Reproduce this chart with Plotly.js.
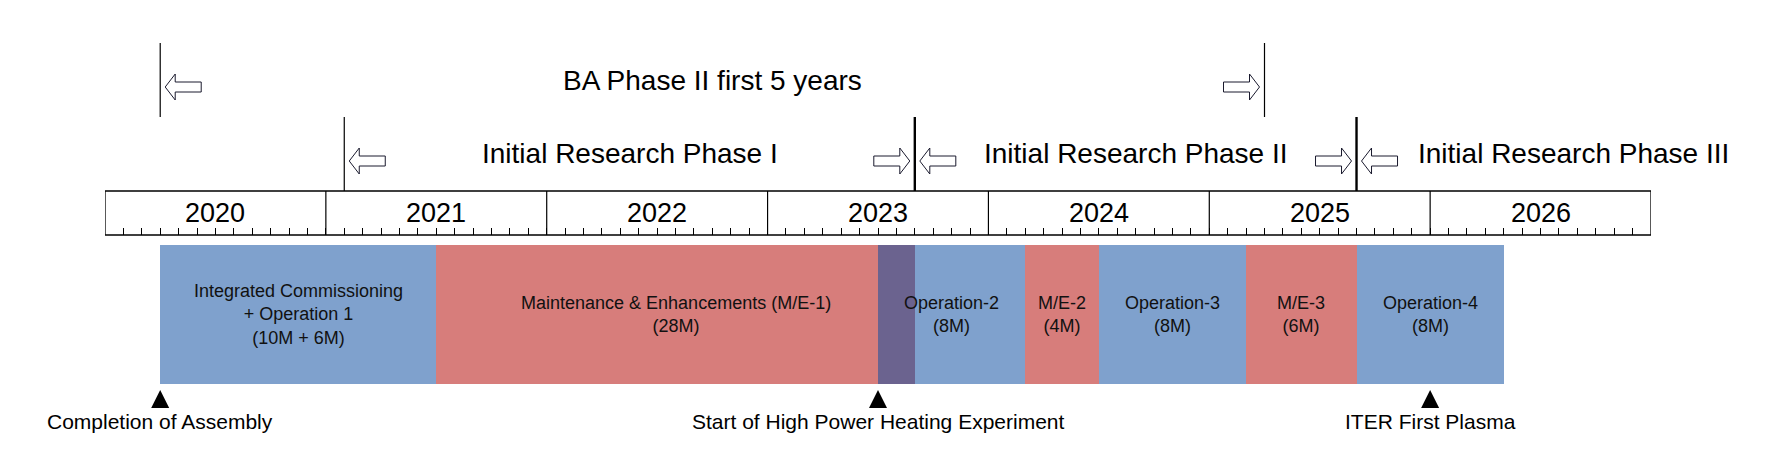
<!DOCTYPE html>
<html><head><meta charset="utf-8">
<script src="https://cdn.plot.ly/plotly-3.0.1.min.js"></script>
<style>html,body{margin:0;padding:0;background:#fff;}#chart{width:1788px;height:468px;}</style>
</head><body><div id="chart"></div>
<script>
// Time in months counted from January 2020 (= 0)
const years = ['2020','2021','2022','2023','2024','2025','2026'];
const segStart  = [3, 18, 42, 44, 50, 54, 62, 68];
const segMonths = [15, 24, 2, 6, 4, 8, 6, 8];
const segKind   = ['op','me','heat','op','me','op','me','op'];
const segLabels = ['Integrated Commissioning<br>+ Operation 1<br>(10M + 6M)',
                   'Maintenance &amp; Enhancements (M/E-1)<br>(28M)',
                   'Operation-2<br>(8M)', 'M/E-2<br>(4M)', 'Operation-3<br>(8M)',
                   'M/E-3<br>(6M)', 'Operation-4<br>(8M)'];
const segLabelX = [10.5, 31, 46, 52, 58, 65, 72];
const milestones  = ['Completion of Assembly','Start of High Power Heating Experiment','ITER First Plasma'];
const milestoneX  = [3, 42, 72];
const baPeriod = [3, 63];
const baLabel  = 'BA Phase II first 5 years';
const phaseBounds = [13, 44, 68];
const phaseLabels = ['Initial Research Phase I','Initial Research Phase II','Initial Research Phase III'];
const phaseLabelX = [28.5, 56, 79.8];

const colors = {op:'#7fa1cd', me:'#d77d7b', heat:'#6b638f'};
const FONT = '"Liberation Sans", Arial, sans-serif';
const H = 468, W = 1788;
const nMonths = years.length * 12;

// layout rows (pixel positions, y axis runs in pixels top->bottom)
const ROW = {baTop:43, baBot:117, phTop:117, boxTop:191, boxBot:235, barTop:245, barBot:383.7,
             baText:80, baArrow:87, phText:153, phArrow:161, yearText:213, tri:390, msText:421};

const shapes = [];
const ann = [];
const blk = '#000';

// BA period bracket lines
baPeriod.forEach(x => shapes.push({type:'line', xref:'x', yref:'y', x0:x, x1:x, y0:ROW.baTop, y1:ROW.baBot, line:{color:blk, width:1.2}}));
// phase boundary lines
phaseBounds.forEach((x,i) => shapes.push({type:'line', xref:'x', yref:'y', x0:x, x1:x, y0:ROW.phTop, y1:ROW.boxTop, line:{color:blk, width: i===0 ? 1.2 : 2.4}}));

// year box
shapes.push({type:'rect', xref:'x', yref:'y', x0:0, x1:nMonths, y0:ROW.boxTop, y1:ROW.boxBot, line:{color:blk, width:1.3}, fillcolor:'rgba(0,0,0,0)'});
years.forEach((y,i) => {
  if (i>0) shapes.push({type:'line', xref:'x', yref:'y', x0:i*12, x1:i*12, y0:ROW.boxTop, y1:ROW.boxBot, line:{color:blk, width:1.2}});
  ann.push({x:i*12+6, y:ROW.yearText, xref:'x', yref:'y', text:y, showarrow:false, font:{family:FONT, size:27, color:'#000'}});
});

// block arrows (pixel-sized, anchored to boundaries)
const leftArrow  = 'M5,0 L15,13 L15,5 L41,5 L41,-5 L15,-5 L15,-13 Z';
const rightArrow = 'M-5,0 L-15,13 L-15,5 L-41,5 L-41,-5 L-15,-5 L-15,-13 Z';
function arrow(x, y, path){
  shapes.push({type:'path', xref:'x', yref:'y', xsizemode:'pixel', ysizemode:'pixel', xanchor:x, yanchor:y,
               path:path, fillcolor:'#fff', line:{color:'#1a1a2e', width:1}});
}
arrow(baPeriod[0], ROW.baArrow, leftArrow);
arrow(baPeriod[1], ROW.baArrow, rightArrow);
phaseBounds.forEach((x,i) => {
  if (i>0) arrow(x, ROW.phArrow, rightArrow);
  arrow(x, ROW.phArrow, leftArrow);
});

// header texts
ann.push({x:(baPeriod[0]+baPeriod[1])/2, y:ROW.baText, xref:'x', yref:'y', text:baLabel, showarrow:false, font:{family:FONT, size:28, color:'#000'}});
phaseLabels.forEach((t,i) => ann.push({x:phaseLabelX[i], y:ROW.phText, xref:'x', yref:'y', text:t, showarrow:false, font:{family:FONT, size:28, color:'#000'}}));

// bar labels
segLabels.forEach((t,i) => ann.push({x:segLabelX[i], y:(ROW.barTop+ROW.barBot)/2, xref:'x', yref:'y', text:t, showarrow:false, font:{family:FONT, size:18, color:'#111'}}));

// milestone labels
milestones.forEach((t,i) => ann.push({x:milestoneX[i], y:ROW.msText, xref:'x', yref:'y', text:t, showarrow:false, font:{family:FONT, size:21, color:'#000'}}));

const barTrace = {
  type:'bar', orientation:'h',
  base: segStart, x: segMonths,
  y: segStart.map(() => (ROW.barTop+ROW.barBot)/2),
  width: segStart.map(() => ROW.barBot-ROW.barTop),
  marker:{color: segKind.map(k => colors[k]), line:{width:0}},
  hoverinfo:'skip', showlegend:false
};
const triTrace = {
  type:'scatter', mode:'markers', x: milestoneX, y: milestoneX.map(() => ROW.tri),
  marker:{symbol:'arrow-up', size:18, color:'#000', line:{width:0}},
  hoverinfo:'skip', showlegend:false, cliponaxis:false
};

const layout = {
  width:W, height:H,
  margin:{l:105, r:137, t:0, b:0, pad:0},
  paper_bgcolor:'#fff', plot_bgcolor:'#fff',
  showlegend:false,
  xaxis:{range:[0,nMonths], anchor:'free', position:(H-ROW.boxBot)/H, showgrid:false, zeroline:false,
         showline:false, showticklabels:false, ticks:'inside', ticklen:7, tickwidth:1, tickcolor:'#000',
         tickmode:'linear', tick0:0, dtick:1, fixedrange:true, automargin:false},
  yaxis:{range:[H,0], visible:false, showgrid:false, zeroline:false, fixedrange:true, automargin:false},
  shapes:shapes, annotations:ann, bargap:0
};
Plotly.newPlot('chart', [barTrace, triTrace], layout, {displayModeBar:false, staticPlot:true});
</script>
</body></html>
